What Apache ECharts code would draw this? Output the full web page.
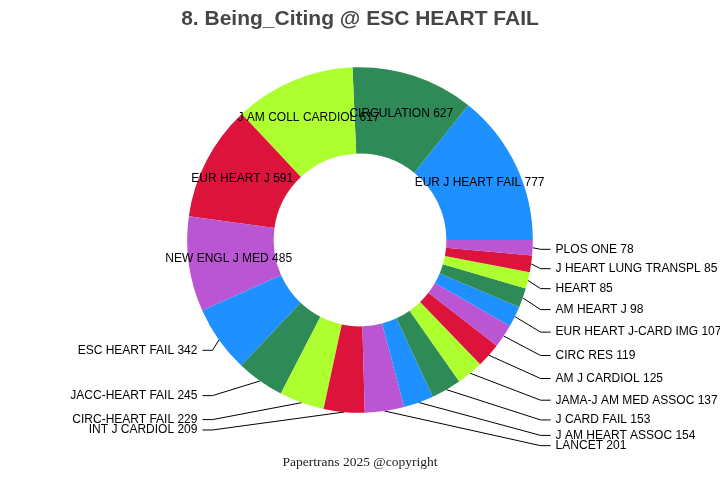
<!DOCTYPE html>
<html>
<head>
<meta charset="utf-8">
<title>Being_Citing @ ESC HEART FAIL</title>
<script src="https://cdn.jsdelivr.net/npm/echarts@6/dist/echarts.min.js"></script>
<style>
  html, body { margin: 0; padding: 0; background: #fff; }
  #chart { width: 720px; height: 480px; }
</style>
</head>
<body>
<div id="chart"></div>
<script>
// journals citing ESC HEART FAIL, descending by count
const journals = [
    'EUR J HEART FAIL', 'CIRCULATION', 'J AM COLL CARDIOL', 'EUR HEART J',
    'NEW ENGL J MED', 'ESC HEART FAIL', 'JACC-HEART FAIL', 'CIRC-HEART FAIL',
    'INT J CARDIOL', 'LANCET', 'J AM HEART ASSOC', 'J CARD FAIL',
    'JAMA-J AM MED ASSOC', 'AM J CARDIOL', 'CIRC RES', 'EUR HEART J-CARD IMG',
    'AM HEART J', 'HEART', 'J HEART LUNG TRANSPL', 'PLOS ONE'
];
const counts = [
    777, 627, 617, 591,
    485, 342, 245, 229,
    209, 201, 154, 153,
    137, 125, 119, 107,
    98, 85, 85, 78
];
const palette = ['#1E90FF', '#2E8B57', '#ADFF2F', '#DC143C', '#BA55D3'];

// big slices carry their label inside the ring
const insideMin = 400;
// how far out (px past the rim) the outer labels sit, per side
const reachLeft = 18;
const reachRight = 35;
const kneeGap = 10;

const chart = echarts.init(document.getElementById('chart'));

const data = journals.map((name, i) => {
    const item = { name: name, value: counts[i] };
    if (counts[i] >= insideMin) {
        item.label = { position: 'inside' };
        item.labelLine = { show: false };
    }
    return item;
});

// fan the outer labels out along the slice direction, short horizontal tail
function fanLabels(params) {
    const pts = params.labelLinePoints;
    if (!pts || counts[params.dataIndex] >= insideMin) {
        return { hideOverlap: false };
    }
    const cx = chart.getWidth() / 2;
    const cy = chart.getHeight() / 2;
    const edge = pts[0];
    const end = pts[2];
    const left = end[0] < cx;
    const r = Math.hypot(edge[0] - cx, edge[1] - cy);
    const reach = left ? reachLeft : reachRight;
    const y = cy + (edge[1] - cy) * (r + reach) / r;
    return {
        y: y,
        hideOverlap: false,
        labelLinePoints: [
            [edge[0], edge[1]],
            [end[0] + (left ? kneeGap : -kneeGap), y],
            [end[0], y]
        ]
    };
}

chart.setOption({
    color: palette,
    animation: false,
    title: [{
        text: '8. Being_Citing @ ESC HEART FAIL',
        left: 'center',
        top: 4,
        textStyle: {
            fontFamily: 'Liberation Sans, Arial, sans-serif',
            fontSize: 21,
            fontWeight: 'bold',
            color: '#464646'
        }
    }, {
        text: 'Papertrans 2025 @copyright',
        left: 'center',
        bottom: 6,
        textStyle: {
            fontFamily: 'Liberation Serif, Times New Roman, serif',
            fontSize: 13.5,
            fontWeight: 'normal',
            color: '#222'
        }
    }],
    series: [{
        type: 'pie',
        center: ['50%', '50%'],
        radius: ['36%', '72%'],
        startAngle: 0,
        clockwise: false,
        avoidLabelOverlap: true,
        data: data,
        label: {
            show: true,
            formatter: '{b} {c}',
            fontFamily: 'Liberation Sans, Arial, sans-serif',
            fontSize: 12,
            color: '#000',
            alignTo: 'labelLine',
            overflow: 'none',
            distanceToLabelLine: 5,
            bleedMargin: 0
        },
        labelLine: {
            show: true,
            length: 8,
            length2: 10,
            lineStyle: { color: '#000', width: 1 }
        },
        labelLayout: fanLabels,
        itemStyle: { borderWidth: 0 },
        emphasis: { disabled: true }
    }]
});

window.addEventListener('resize', () => {
    chart.resize();
});
</script>
</body>
</html>
